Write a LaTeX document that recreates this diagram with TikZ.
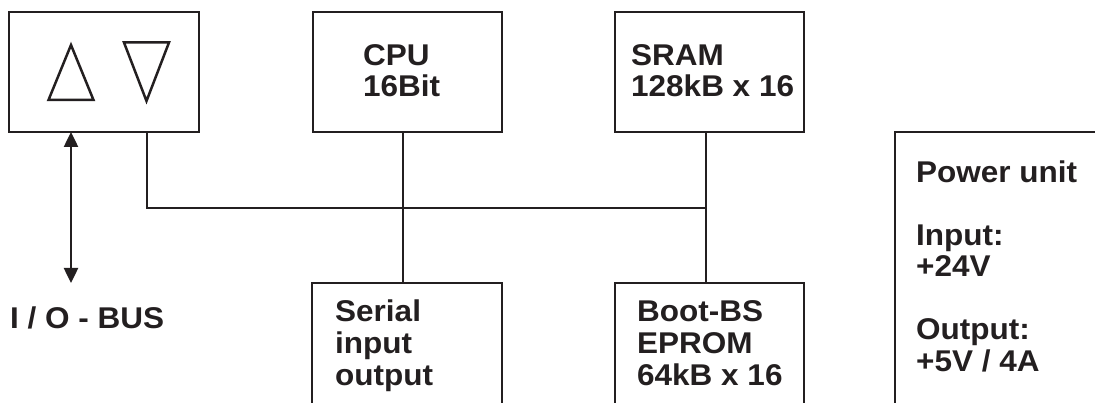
\documentclass[tikz,border=0pt]{standalone}
\usepackage{fontspec}
\setmainfont{Liberation Sans}[FakeStretch=1.05]
\usetikzlibrary{arrows.meta}
\definecolor{ink}{HTML}{231F20}
\begin{document}
\begin{tikzpicture}[x=1pt,y=-1pt,
  box/.style={draw=ink, line width=2.8pt, inner sep=0pt, outer sep=0pt},
  wire/.style={draw=ink, line width=2.8pt},
  tri/.style={draw=ink, line width=2.5pt, line join=miter},
  lbl/.style={anchor=base west, inner sep=0pt, text=ink, font=\bfseries\fontsize{30}{31.5}\selectfont}]
\useasboundingbox (0,0) rectangle (1095,403);
% boxes
\node[box, minimum width=190pt, minimum height=120pt] (io) at (104,72) {};
\node[box, minimum width=189pt, minimum height=120pt] (cpu) at (407.5,72) {};
\node[box, minimum width=189pt, minimum height=120pt] (sram) at (709.5,72) {};
\node[box, minimum width=190pt, minimum height=147pt] (serial) at (407,356.5) {};
\node[box, minimum width=189pt, minimum height=147pt] (boot) at (709.5,356.5) {};
\node[box, minimum width=220pt, minimum height=298pt] (power) at (1005,281) {};
% triangles
\draw[tri] (71,45) -- (93.5,100) -- (48.5,100) -- cycle;
\draw[tri] (124,42.5) -- (169,42.5) -- (146.5,101) -- cycle;
% connectors
\coordinate (iotap) at (147,132);
\coordinate (cpux) at (403,0);
\coordinate (busx) at (706,0);
\coordinate (busj) at (706,208);
\draw[wire] (iotap) |- (busj);
\draw[wire] (cpu.south -| cpux) -- (serial.north -| cpux);
\draw[wire] (sram.south -| busx) -- (boot.north -| busx);
\coordinate (arrx) at (71,0);
\coordinate (arrend) at (71,283);
\draw[wire, line width=2.5pt, {Stealth[length=15pt,width=14pt,inset=0pt]}-{Stealth[length=15pt,width=14pt,inset=0pt]}] (io.south -| arrx) -- (arrend);
% labels
\node[lbl] (bus) at (10,328) {I / O - BUS};
\node[lbl] (cpu1) at (363,65.7) {CPU};
\node[lbl] (cpu2) at (363,96.7) {16Bit};
\node[lbl] (sram1) at (631,65.7) {SRAM};
\node[lbl] (sram2) at (631,96.7) {128kB x 16};
\node[lbl] (ser1) at (335,322) {Serial};
\node[lbl] (ser2) at (335,353.5) {input};
\node[lbl] (ser3) at (335,385) {output};
\node[lbl] (boot1) at (637,322) {Boot-BS};
\node[lbl] (boot2) at (637,353.5) {EPROM};
\node[lbl] (boot3) at (637,385) {64kB x 16};
\node[lbl] (pw1) at (916,183) {Power unit};
\node[lbl] (pw2) at (916,246) {Input:};
\node[lbl] (pw3) at (916,277) {+24V};
\node[lbl] (pw4) at (916,339.5) {Output:};
\node[lbl] (pw5) at (916,371) {+5V / 4A};
\end{tikzpicture}
\end{document}
